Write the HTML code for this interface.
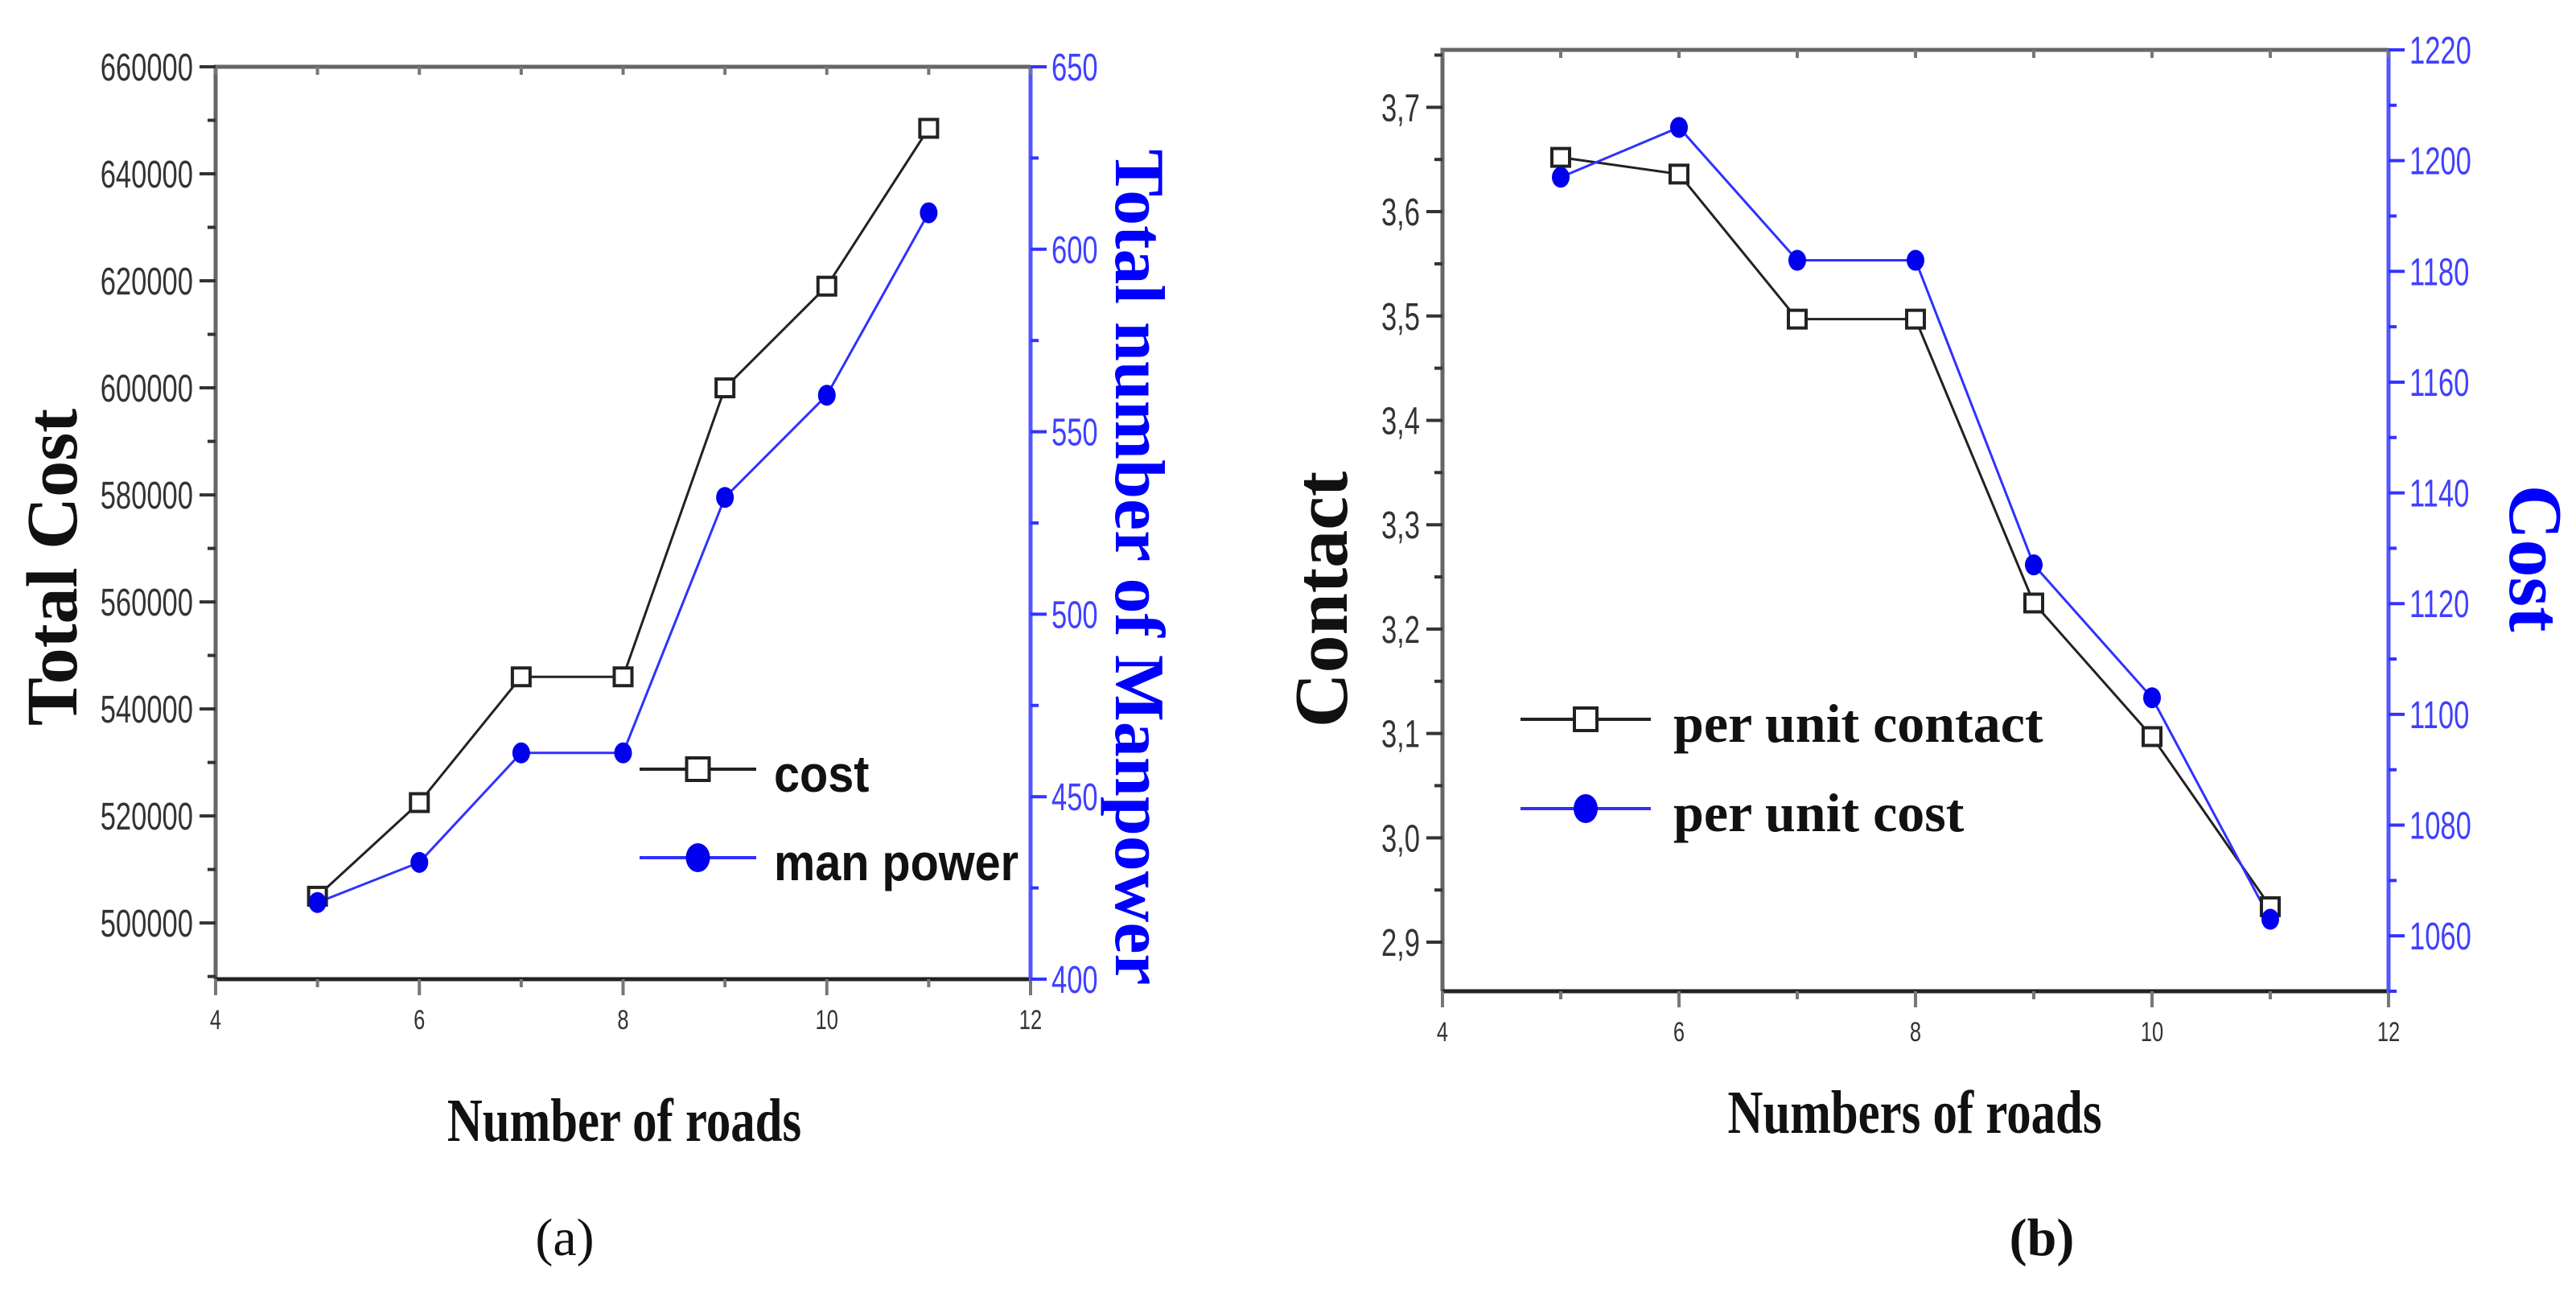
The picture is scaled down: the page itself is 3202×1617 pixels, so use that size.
<!DOCTYPE html>
<html><head><meta charset="utf-8"><style>
html,body{margin:0;padding:0;background:#fff;}
svg{display:block;}
.tk{font-family:"Liberation Sans",sans-serif;fill:#333;}
.ttl{font-family:"Liberation Serif",serif;font-weight:bold;}
.lg{font-family:"Liberation Sans",sans-serif;font-weight:bold;}
</style></head><body>
<svg id="chart" xmlns="http://www.w3.org/2000/svg" width="3202" height="1617" viewBox="0 0 3202 1617"></svg>
<script>
const roads = [5,6,7,8,9,10,11];
const totalCost = [505000,522500,546000,546000,600000,619000,648500];
const manpower = [421,432,462,462,532,560,610];
const contact = [3.652,3.636,3.497,3.497,3.225,3.097,2.934];
const unitCost = [1197,1206,1182,1182,1127,1103,1063];
const xTicks = [4,6,8,10,12];
const aLeftTicks = [500000,520000,540000,560000,580000,600000,620000,640000,660000];
const aRightTicks = [400,450,500,550,600,650];
const bLeftTicks = [2.9,3.0,3.1,3.2,3.3,3.4,3.5,3.6,3.7];
const bRightTicks = [1060,1080,1100,1120,1140,1160,1180,1200,1220];

const svg = document.getElementById('chart');
const NS = 'http://www.w3.org/2000/svg';
function mk(tag, attrs, parent){const e=document.createElementNS(NS,tag);for(const k in attrs)e.setAttribute(k,attrs[k]);(parent||svg).appendChild(e);return e;}
function txt(s, attrs, parent){const e=mk('text',attrs,parent);e.textContent=s;return e;}

function panel(cfg){
  const g = mk('g',{});
  
  
  const {x0,x1,y0,y1}=cfg;
  const sx=v=>x0+(v-4)/(12-4)*(x1-x0);
  const syL=v=>y1-(v-cfg.lmin)/(cfg.lmax-cfg.lmin)*(y1-y0);
  const syR=v=>y1-(v-cfg.rmin)/(cfg.rmax-cfg.rmin)*(y1-y0);
  const fr=mk('path',{d:`M${x0},${y1}L${x0},${y0}L${x1},${y0}`,stroke:'#666',fill:'none','stroke-width':5},g);
  
  const xa=mk('line',{x1:x0,y1:y1,x2:x1,y2:y1,stroke:'#222','stroke-width':5},g);
  
  const ra=mk('line',{x1:x1,y1:y0,x2:x1,y2:y1,stroke:'#55f','stroke-width':5},g);
  
  for(let v=4;v<=12;v++){
    const X=sx(v);const major=v%2===0;
    mk('line',{x1:X,y1:y1,x2:X,y2:y1+(major?20:10),stroke:'#777','stroke-width':4},g);
    mk('line',{x1:X,y1:y0,x2:X,y2:y0+10,stroke:'#777','stroke-width':4},g);
  }
  xTicks.forEach(v=>{const t=txt(String(v),{x:sx(v),y:y1+62,'text-anchor':'middle','font-size':34,class:'tk',transform:`translate(${sx(v)},0) scale(0.75,1) translate(${-sx(v)},0)`},g);
    });
  const lt=cfg.lticks, lstep=lt[1]-lt[0];
  for(let v=lt[0]-lstep/2;v<=cfg.lmax+1e-9;v+=lstep/2){
    const Y=syL(v); if(Y<y0-1||Y>y1+1)continue;
    const major=Math.abs(((v-lt[0])/lstep)-Math.round((v-lt[0])/lstep))<1e-6;
    mk('line',{x1:x0-(major?20:10),y1:Y,x2:x0,y2:Y,stroke:'#333','stroke-width':4},g);
  }
  lt.forEach(v=>{const X=x0-28,Y=syL(v)+17;const t=txt(cfg.lfmt(v),{x:X,y:Y,'text-anchor':'end','font-size':48,class:'tk',transform:`translate(${X},0) scale(0.72,1) translate(${-X},0)`},g);
    });
  const rt=cfg.rticks, rstep=rt[1]-rt[0];
  for(let v=cfg.rmin;v<=cfg.rmax+1e-9;v+=rstep/2){
    const Y=syR(v);const major=Math.abs(((v-rt[0])/rstep)-Math.round((v-rt[0])/rstep))<1e-6;
    mk('line',{x1:x1,y1:Y,x2:x1+(major?20:10),y2:Y,stroke:'#33f','stroke-width':4},g);
  }
  rt.forEach(v=>{const X=x1+26,Y=syR(v)+17;const t=txt(String(v),{x:X,y:Y,'font-size':48,class:'tk',style:'fill:#4040ff',transform:`translate(${X},0) scale(0.72,1) translate(${-X},0)`},g);
    });
  const p1=roads.map((r,i)=>`${sx(r)},${syL(cfg.s1[i])}`).join(' ');
  const l1=mk('polyline',{points:p1,fill:'none',stroke:'#222','stroke-width':3},g);
  
  const p2=roads.map((r,i)=>`${sx(r)},${syR(cfg.s2[i])}`).join(' ');
  const l2=mk('polyline',{points:p2,fill:'none',stroke:'#3030ff','stroke-width':3},g);
  
  roads.forEach((r,i)=>{
    const m=mk('rect',{x:sx(r)-11,y:syL(cfg.s1[i])-11,width:22,height:22,fill:'#fff',stroke:'#222','stroke-width':4},g);
    
    const c=mk('ellipse',{cx:sx(r),cy:syR(cfg.s2[i]),rx:11,ry:13,fill:'#0000ee'},g);
    
  });
  const L=cfg.leg;
  const le1=mk('g',{},g);
  mk('line',{x1:L.x,y1:L.y1,x2:L.x+L.w,y2:L.y1,stroke:'#222','stroke-width':4},le1);
  mk('rect',{x:L.x+L.w/2-14,y:L.y1-14,width:28,height:28,fill:'#fff',stroke:'#222','stroke-width':4},le1);
  txt(L.t1,{x:L.tx,y:L.y1+28,'font-size':L.fs,class:L.cls,fill:'#111',transform:`translate(${L.tx},0) scale(${L.sc},1) translate(${-L.tx},0)`},le1);
  const le2=mk('g',{},g);
  mk('line',{x1:L.x,y1:L.y2,x2:L.x+L.w,y2:L.y2,stroke:'#3030ff','stroke-width':4},le2);
  mk('ellipse',{cx:L.x+L.w/2,cy:L.y2,rx:15,ry:18,fill:'#0000ee'},le2);
  txt(L.t2,{x:L.tx,y:L.y2+28,'font-size':L.fs,class:L.cls,fill:'#111',transform:`translate(${L.tx},0) scale(${L.sc},1) translate(${-L.tx},0)`},le2);
  const xt=txt(cfg.xtitle,{x:cfg.xtx,y:cfg.xty,'text-anchor':'middle','font-size':76,class:'ttl',fill:'#111',transform:`translate(${cfg.xtx},0) scale(0.8,1) translate(${-cfg.xtx},0)`},g);
  
  const yt=txt(cfg.ltitle,{x:0,y:0,'text-anchor':'middle','font-size':cfg.lfs,class:'ttl',fill:'#111',transform:`translate(${cfg.ltx},${cfg.lty}) rotate(-90)`},g);
  
  const rtt=txt(cfg.rtitle,{x:0,y:0,'text-anchor':'middle','font-size':cfg.rfs,class:'ttl',fill:'#0000ff',transform:`translate(${cfg.rtx},${cfg.rty}) rotate(90)`},g);
  
  const cap=txt(cfg.cap,{x:cfg.capx,y:1560,'text-anchor':'middle','font-size':66,fill:'#111',style:'font-family:"Liberation Serif",serif'+(cfg.capbold?';font-weight:bold':'')},g);
  
}

panel({name:'panel-a',x0:268,x1:1281,y0:83,y1:1217,lmin:489500,lmax:660000,rmin:400,rmax:650,
  lticks:aLeftTicks,rticks:aRightTicks,lfmt:v=>String(v),s1:totalCost,s2:manpower,s1name:'cost',s2name:'man-power',
  leg:{x:795,w:145,y1:956,y2:1066,tx:962,t1:'cost',t2:'man power',fs:64,cls:'lg',sc:0.9},
  xtitle:'Number of roads',xtx:776,xty:1418,ltitle:'Total Cost',lfs:90,ltx:95,lty:705,rtitle:'Total number of Manpower',rtx:1387,rty:705,rfs:88,
  cap:'(a)',capx:702,capbold:false});
panel({name:'panel-b',x0:1793,x1:2969,y0:62,y1:1232,lmin:2.853,lmax:3.755,rmin:1050,rmax:1220,
  lticks:bLeftTicks,rticks:bRightTicks,lfmt:v=>v.toFixed(1).replace('.',','),s1:contact,s2:unitCost,s1name:'per-unit-contact',s2name:'per-unit-cost',
  leg:{x:1890,w:162,y1:894,y2:1005,tx:2080,t1:'per unit contact',t2:'per unit cost',fs:68,cls:'ttl',sc:1},
  xtitle:'Numbers of roads',xtx:2380,xty:1408,ltitle:'Contact',lfs:94,ltx:1674,lty:745,rtitle:'Cost',rtx:3120,rty:694,rfs:94,
  cap:'(b)',capx:2538,capbold:true});
</script>
</body></html>
